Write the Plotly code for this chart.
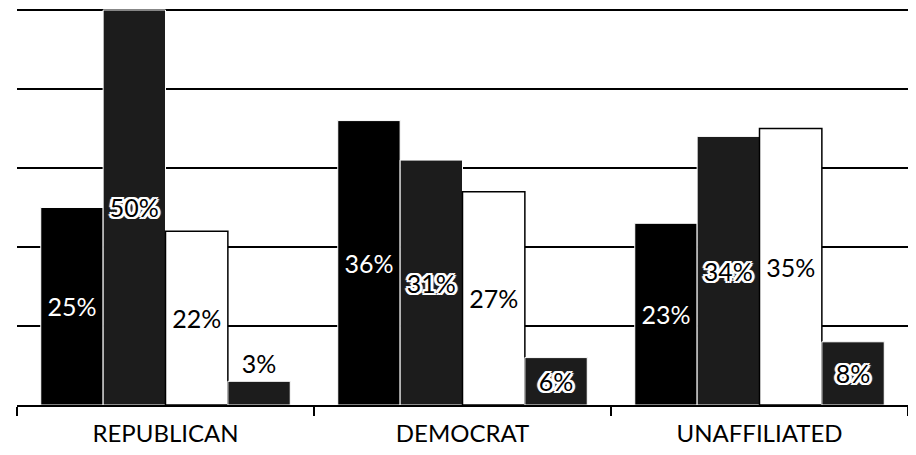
import plotly.graph_objects as go

categories = ["REPUBLICAN", "DEMOCRAT", "UNAFFILIATED"]
series_a = [25, 36, 23]
series_b = [50, 31, 34]
series_c = [22, 27, 35]
series_d = [3, 6, 8]

FONT = "Lato, Open Sans, sans-serif"
HALO = ("2px 0 0 white, -2px 0 0 white, 0 2px 0 white, 0 -2px 0 white, "
        "2px 2px 0 white, -2px -2px 0 white, 2px -2px 0 white, -2px 2px 0 white, "
        "3px 0 1px white, -3px 0 1px white")
LABEL_SIZE = 25


def labels(vals):
    return [f"{v}%" for v in vals]


fig = go.Figure()

# plain white text on black
fig.add_trace(go.Bar(
    x=categories, y=series_a, text=labels(series_a),
    marker=dict(color="#000000", line=dict(color="white", width=1)),
    textposition="inside", insidetextanchor="middle",
    textfont=dict(color="white", size=LABEL_SIZE, family=FONT),
))
# black text with a white halo
fig.add_trace(go.Bar(
    x=categories, y=series_b, text=labels(series_b),
    marker=dict(color="#1c1c1c", line=dict(color="white", width=1)),
    textposition="inside", insidetextanchor="middle",
    textfont=dict(color="black", size=LABEL_SIZE, family=FONT, shadow=HALO),
))
# white bar, black outline
fig.add_trace(go.Bar(
    x=categories, y=series_c, text=labels(series_c),
    marker=dict(color="white", line=dict(color="black", width=1.5)),
    textposition="inside", insidetextanchor="middle",
    textfont=dict(color="black", size=LABEL_SIZE, family=FONT),
))
fig.add_trace(go.Bar(
    x=categories, y=series_d, text=labels(series_d),
    marker=dict(color="#1c1c1c", line=dict(color="white", width=1)),
    textposition=["outside", "inside", "inside"], insidetextanchor="middle",
    textfont=dict(color="black", size=LABEL_SIZE, family=FONT, shadow=HALO),
    cliponaxis=False,
))

# page body adds 8px around the figure, so size it to fit the window
fig.update_layout(
    width=900, height=439,
    margin=dict(l=9, r=0, t=0, b=42),
    paper_bgcolor="white", plot_bgcolor="white",
    barmode="group", bargap=0.16, bargroupgap=0,
    showlegend=False,
    font=dict(family=FONT, color="black"),
)
fig.update_traces(constraintext="none")
fig.update_xaxes(
    showline=True, linecolor="black", linewidth=2,
    ticks="outside", tickson="boundaries", ticklen=9, tickwidth=2, tickcolor="black",
    tickfont=dict(size=24, family=FONT, color="black"),
    ticklabelstandoff=6, automargin=False,
    showgrid=False,
)
fig.update_yaxes(
    range=[0, 50.25], dtick=10, showticklabels=False,
    showgrid=True, gridcolor="black", gridwidth=2,
    zeroline=False, showline=False,
)

fig.write_html("out.html")
